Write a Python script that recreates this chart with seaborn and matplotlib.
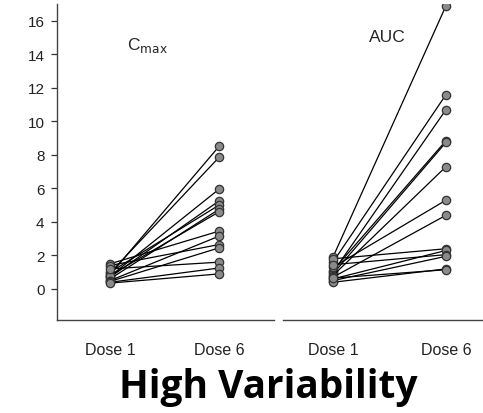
import numpy as np
import pandas as pd
import matplotlib
matplotlib.use("Agg")
import matplotlib.pyplot as plt
import seaborn as sns

doses = ["Dose 1", "Dose 6"]
cmax_dose1 = [0.85, 0.95, 0.75, 0.7, 1.0, 0.6, 0.8, 1.5, 0.5, 1.4, 0.45, 1.2, 0.4, 0.35]
cmax_dose6 = [8.5, 7.85, 5.95, 5.25, 5.0, 4.75, 4.6, 3.45, 3.15, 2.65, 2.45, 1.6, 1.25, 0.9]
auc_dose1 = [1.9, 1.6, 1.0, 1.1, 0.9, 0.8, 1.3, 0.7, 1.8, 0.6, 1.45, 0.5, 0.4, 0.65]
auc_dose6 = [16.9, 11.6, 10.7, 8.85, 8.75, 7.3, 5.3, 4.4, 2.4, 2.3, 2.05, 1.95, 1.2, 1.15]
yticks = [0, 2, 4, 6, 8, 10, 12, 14, 16]

def long_df(d1, d6):
    rows = []
    for i, (a, b) in enumerate(zip(d1, d6)):
        rows.append({"subject": i, "x": 0, "value": a})
        rows.append({"subject": i, "x": 1, "value": b})
    return pd.DataFrame(rows)

sns.set_style("white")
plt.rcParams["font.family"] = ["Liberation Sans", "DejaVu Sans"]

fig = plt.figure(figsize=(4.83, 4.14), dpi=100)
ax1 = fig.add_axes([57/483, 93/414, 217/483, 316/414])
ax2 = fig.add_axes([283/483, 93/414, 200/483, 316/414])

for ax, d1, d6, xl in [(ax1, cmax_dose1, cmax_dose6, (-0.486, 1.505)),
                       (ax2, auc_dose1, auc_dose6, (-0.442, 1.327))]:
    df = long_df(d1, d6)
    sns.lineplot(data=df, x="x", y="value", units="subject", estimator=None,
                 color="black", lw=0.9, marker="o", markersize=6,
                 markerfacecolor="#8a8a8a", markeredgecolor="#333333",
                 markeredgewidth=0.9, ax=ax, legend=False)
    ax.set_xlim(*xl)
    ax.set_ylim(-1.85, 17.0)
    ax.set_xticks([0, 1])
    ax.set_xticklabels(doses, fontsize=11.5)
    ax.set_xlabel("")
    ax.set_ylabel("")
    ax.tick_params(axis="x", direction="out", length=4, width=0.9,
                   pad=12, colors="#333333", labelcolor="#222222")
    for s in ["top", "right"]:
        ax.spines[s].set_visible(False)
    ax.spines["bottom"].set_color("#444444")
    ax.spines["bottom"].set_linewidth(1.0)
    ax.set_facecolor("none")

ax1.set_yticks(yticks)
ax1.set_yticklabels([str(t) for t in yticks], fontsize=11)
ax1.tick_params(axis="y", direction="out", length=4, width=0.9,
                pad=5, colors="#333333", labelcolor="#222222", left=True)
ax1.spines["left"].set_color("#444444")
ax1.spines["left"].set_linewidth(1.0)

ax2.spines["left"].set_visible(False)
ax2.set_yticks([])

ax1.text(0.34, 14.6, r"C$_{\mathrm{max}}$", fontsize=12.5, ha="center", va="center")
ax2.text(0.48, 15.05, "AUC", fontsize=12.5, ha="center", va="center")

fig.text(268/483, 1 - 388/414, "High Variability", fontsize=28,
         fontweight="bold", family=["Open Sans", "DejaVu Sans"],
         ha="center", va="center", color="black")

fig.savefig("out.png", dpi=100)
